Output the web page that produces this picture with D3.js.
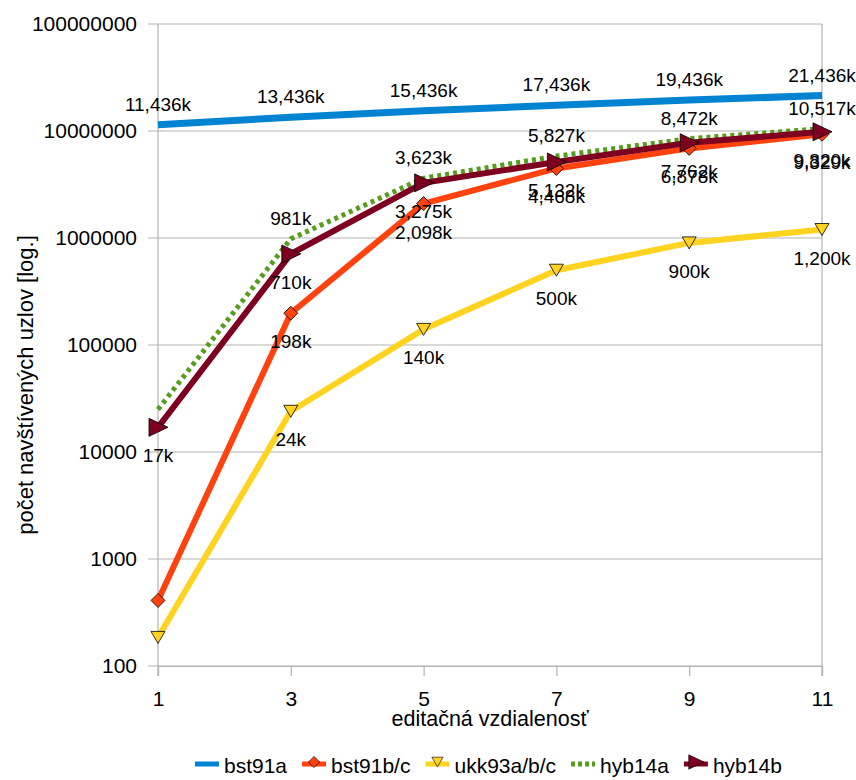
<!DOCTYPE html>
<html>
<head>
<meta charset="utf-8">
<script src="https://cdn.jsdelivr.net/npm/d3@7"></script>
<style>
  html, body { margin: 0; padding: 0; background: #fff; }
  svg { display: block; font-family: "Liberation Sans", Arial, sans-serif; }
</style>
</head>
<body>
<svg id="chart" width="856" height="780"></svg>
<script>
// Edit distance categories
const categories = ["1", "3", "5", "7", "9", "11"];

// Visited node counts per algorithm
const bst91a   = [11436000, 13436000, 15436000, 17436000, 19436000, 21436000];
const bst91bc  = [410, 198000, 2098000, 4468000, 6878000, 9329000];
const ukk93abc = [185, 24000, 140000, 500000, 900000, 1200000];
const hyb14a   = [25000, 981000, 3623000, 5827000, 8472000, 10517000];
const hyb14b   = [17000, 710000, 3275000, 5132000, 7762000, 9820000];

// Which points carry a value label (first bst91b/c, ukk and hyb14a points have none)
const bst91aLabels   = [true, true, true, true, true, true];
const bst91bcLabels  = [false, true, true, true, true, true];
const ukk93abcLabels = [false, true, true, true, true, true];
const hyb14aLabels   = [false, true, true, true, true, true];
const hyb14bLabels   = [true, true, true, true, true, true];

const yTicks = [100, 1000, 10000, 100000, 1000000, 10000000, 100000000];

const series = [
  { name: "bst91a",     values: bst91a,   labels: bst91aLabels,   color: "#0084d1", width: 7, dash: null,  marker: null,      above: true },
  { name: "bst91b/c",   values: bst91bc,  labels: bst91bcLabels,  color: "#ff420e", width: 6, dash: null,  marker: "diamond", above: false },
  { name: "ukk93a/b/c", values: ukk93abc, labels: ukk93abcLabels, color: "#ffd320", width: 6, dash: null,  marker: "tridown", above: false },
  { name: "hyb14a",     values: hyb14a,   labels: hyb14aLabels,   color: "#579d1c", width: 5, dash: "4,4", marker: null,      above: true },
  { name: "hyb14b",     values: hyb14b,   labels: hyb14bLabels,   color: "#7e0021", width: 6, dash: null,  marker: "triright", above: false }
];

const svg = d3.select("#chart");
const plotLeft = 158, plotRight = 822, plotTop = 24, plotBottom = 666;

const x = d3.scalePoint().domain(categories).range([plotLeft, plotRight]);
const y = d3.scaleLog().domain([100, 100000000]).range([plotBottom, plotTop]);

const grid = "#b3b3b3";

// Horizontal grid lines
svg.append("g")
  .selectAll("line")
  .data(yTicks)
  .join("line")
  .attr("x1", plotLeft - 10).attr("x2", plotRight)
  .attr("y1", d => y(d)).attr("y2", d => y(d))
  .attr("stroke", grid).attr("stroke-width", 1.2);

// Plot side borders
svg.append("line").attr("x1", plotLeft).attr("x2", plotLeft).attr("y1", plotTop).attr("y2", plotBottom + 10)
  .attr("stroke", grid).attr("stroke-width", 1.2);
svg.append("line").attr("x1", plotRight).attr("x2", plotRight).attr("y1", plotTop).attr("y2", plotBottom + 10)
  .attr("stroke", grid).attr("stroke-width", 1.2);

// Y axis labels
const yAxis = d3.axisLeft(y).tickValues(yTicks).tickFormat(d => String(d)).tickSize(0).tickPadding(21);
const gy = svg.append("g").attr("transform", `translate(${plotLeft},0)`).call(yAxis);
gy.select(".domain").remove();
gy.selectAll("text").attr("font-size", 21).attr("fill", "#000")
  .attr("font-family", "Liberation Sans, Arial, sans-serif");

// X axis
const xAxis = d3.axisBottom(x).tickSize(10).tickPadding(15);
const gx = svg.append("g").attr("transform", `translate(0,${plotBottom})`).call(xAxis);
gx.select(".domain").attr("stroke", grid).attr("stroke-width", 1.2);
gx.selectAll(".tick line").attr("stroke", grid).attr("stroke-width", 1.2);
gx.selectAll("text").attr("font-size", 21).attr("fill", "#000")
  .attr("font-family", "Liberation Sans, Arial, sans-serif");

// Axis titles
svg.append("text").attr("x", 490).attr("y", 726).attr("text-anchor", "middle")
  .attr("font-size", 21.5).text("editačná vzdialenosť");
svg.append("text").attr("transform", "translate(33,385) rotate(-90)").attr("text-anchor", "middle")
  .attr("font-size", 22).text("počet navštívených uzlov [log.]");

// Marker shapes
function markerPath(type) {
  if (type === "diamond") return "M0,-7L7,0L0,7L-7,0Z";
  if (type === "tridown") return "M-7,-6L7,-6L0,6Z";
  if (type === "triright") return "M-9,-9L10,0L-9,9Z";
  return null;
}

const line = d3.line().x((d, i) => x(categories[i])).y(d => y(d));

// Lines and markers
series.forEach(s => {
  const g = svg.append("g");
  g.append("path")
    .datum(s.values)
    .attr("d", line)
    .attr("fill", "none")
    .attr("stroke", s.color)
    .attr("stroke-width", s.width)
    .attr("stroke-linejoin", "round")
    .attr("stroke-dasharray", s.dash);
  if (s.marker) {
    g.selectAll("path.m")
      .data(s.values)
      .join("path")
      .attr("class", "m")
      .attr("d", markerPath(s.marker))
      .attr("transform", (d, i) => `translate(${x(categories[i])},${y(d)})`)
      .attr("fill", s.color)
      .attr("stroke", "#000")
      .attr("stroke-width", 0.8);
  }
});

// Value labels
const fmt = v => d3.format(",")(Math.round(v / 1000)) + "k";
series.forEach(s => {
  svg.append("g")
    .selectAll("text")
    .data(s.values.map((v, i) => ({ v, i })).filter(d => s.labels[d.i]))
    .join("text")
    .attr("x", d => x(categories[d.i]))
    .attr("y", d => y(d.v) + (s.above ? -14 : 35))
    .attr("text-anchor", "middle")
    .attr("font-size", 19)
    .attr("fill", "#000")
    .text(d => fmt(d.v));
});

// Legend
const legend = svg.append("g");
let lx = 195;
const ly = 764;
series.forEach(s => {
  const item = legend.append("g").attr("transform", `translate(${lx},${ly})`);
  item.append("line").attr("x1", 0).attr("x2", 24).attr("y1", 0).attr("y2", 0)
    .attr("stroke", s.color).attr("stroke-width", 5)
    .attr("stroke-dasharray", s.dash ? "4,3" : null);
  if (s.marker) {
    item.append("path").attr("d", markerPath(s.marker))
      .attr("transform", "translate(12,-2) scale(0.8)")
      .attr("fill", s.color).attr("stroke", "#000").attr("stroke-width", 0.8);
  }
  const t = item.append("text").attr("x", 29).attr("y", 9)
    .attr("font-size", 21).attr("fill", "#000").text(s.name);
  lx += 29 + t.node().getComputedTextLength() + 15;
});
</script>
</body>
</html>
